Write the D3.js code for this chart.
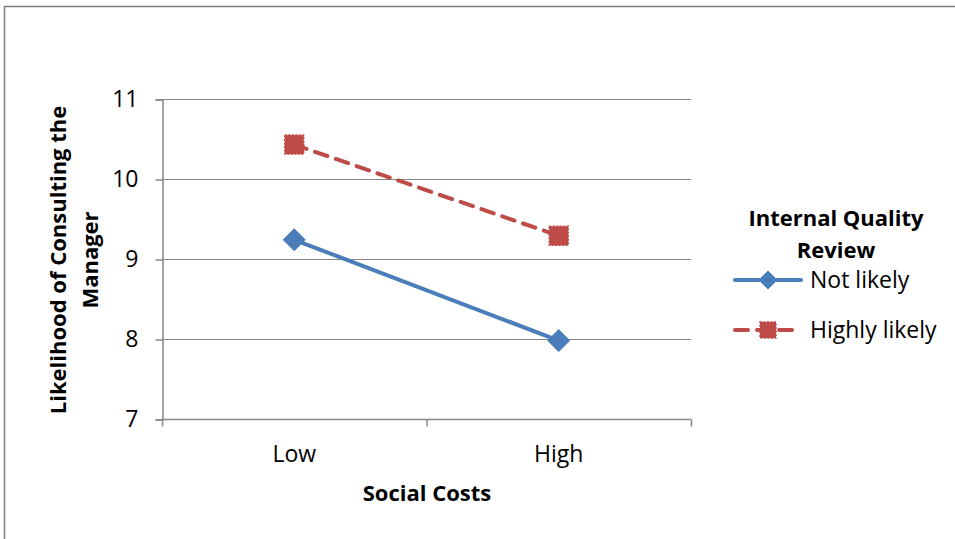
<!DOCTYPE html>
<html>
<head>
<meta charset="utf-8">
<script src="https://cdn.jsdelivr.net/npm/d3@7"></script>
<style>
  html, body { margin: 0; padding: 0; background: #fff; }
  svg { display: block; font-family: "Open Sans", Lato, sans-serif; }
</style>
</head>
<body>
<svg id="chart" width="955" height="539"></svg>
<script>
// Social cost levels on the x axis
const categories = ["Low", "High"];
// Mean likelihood of consulting the manager, by internal quality review
const notLikely = [9.24, 7.98];
const highlyLikely = [10.43, 9.29];
const seriesNames = ["Not likely", "Highly likely"];
const yTicks = [7, 8, 9, 10, 11];

const svg = d3.select("#chart");
const gridColor = "#878787";
const labelSize = 23;
const titleSize = 22;

// outer frame
svg.append("path")
  .attr("d", "M4.5,540 L4.5,6.5 L960,6.5")
  .attr("fill", "none").attr("stroke", "#7f7f7f").attr("stroke-width", 1.5);

const plot = { left: 162, right: 691, top: 99, bottom: 419 };
const x = d3.scaleBand().domain(categories).range([plot.left, plot.right]);
const y = d3.scaleLinear().domain([7, 11]).range([plot.bottom, plot.top]);

// horizontal gridlines
svg.append("g").selectAll("line").data(yTicks.slice(1)).join("line")
  .attr("x1", plot.left).attr("x2", plot.right)
  .attr("y1", d => y(d) + 0.5).attr("y2", d => y(d) + 0.5)
  .attr("stroke", gridColor).attr("stroke-width", 1.2);

// y axis
const yAxis = svg.append("g").attr("transform", `translate(${plot.left + 0.5},0.5)`)
  .call(d3.axisLeft(y).tickValues(yTicks).tickSize(7).tickPadding(17).tickFormat(d3.format("d")));
yAxis.select(".domain").attr("stroke", gridColor).attr("stroke-width", 1.5);
yAxis.selectAll(".tick line").attr("stroke", gridColor).attr("stroke-width", 1.5);
yAxis.selectAll("text").attr("font-size", labelSize).attr("fill", "#000")
  .attr("font-family", "'Open Sans', sans-serif");

// x axis with tick marks at band boundaries
const xAxisG = svg.append("g").attr("transform", `translate(0,${plot.bottom + 0.5})`);
xAxisG.append("line").attr("x1", plot.left).attr("x2", plot.right)
  .attr("stroke", gridColor).attr("stroke-width", 1.5);
const boundaries = [plot.left, plot.left + x.bandwidth(), plot.right];
xAxisG.selectAll("line.tk").data(boundaries).join("line").attr("class", "tk")
  .attr("x1", d => d + 0.5).attr("x2", d => d + 0.5).attr("y1", 0).attr("y2", 7)
  .attr("stroke", gridColor).attr("stroke-width", 1.5);
xAxisG.selectAll("text").data(categories).join("text")
  .attr("x", d => x(d) + x.bandwidth() / 2).attr("y", 42)
  .attr("text-anchor", "middle").attr("font-size", labelSize).text(d => d);

// axis titles
svg.append("text").attr("x", 427).attr("y", 501).attr("text-anchor", "middle")
  .attr("font-size", titleSize).attr("font-weight", "bold").text("Social Costs");
const yTitle = svg.append("text").attr("transform", "translate(66,260) rotate(-90)")
  .attr("text-anchor", "middle").attr("font-size", titleSize).attr("font-weight", "bold");
yTitle.append("tspan").attr("x", 0).attr("dy", 0).text("Likelihood of Consulting the");
yTitle.append("tspan").attr("x", 0).attr("dy", 32).text("Manager");

const cx = c => x(c) + x.bandwidth() / 2;
const line = d3.line().x((d, i) => cx(categories[i])).y(d => y(d));

const blue = "#4a7ebb";
const red = "#be4b48";

function diamond(g, px, py, r) {
  g.append("path").attr("d", `M${px},${py - r} L${px + r},${py} L${px},${py + r} L${px - r},${py} Z`)
    .attr("fill", blue).attr("stroke", blue).attr("stroke-width", 1);
}
function square(g, px, py, s) {
  g.append("rect").attr("x", px - s / 2).attr("y", py - s / 2).attr("width", s).attr("height", s)
    .attr("fill", red).attr("stroke", red).attr("stroke-width", 1.5).attr("stroke-dasharray", "2,1.5");
}

// series lines
svg.append("path").datum(notLikely).attr("d", line)
  .attr("fill", "none").attr("stroke", blue).attr("stroke-width", 4).attr("stroke-linecap", "round");
svg.append("path").datum(highlyLikely).attr("d", line)
  .attr("fill", "none").attr("stroke", red).attr("stroke-width", 4)
  .attr("stroke-dasharray", "13,9").attr("stroke-linecap", "round");

const markers = svg.append("g");
notLikely.forEach((v, i) => diamond(markers, cx(categories[i]), y(v), 11));
highlyLikely.forEach((v, i) => square(markers, cx(categories[i]), y(v), 19));

// legend
const legend = svg.append("g");
legend.append("text").attr("x", 836).attr("y", 226).attr("text-anchor", "middle")
  .attr("font-size", titleSize).attr("font-weight", "bold").text("Internal Quality");
legend.append("text").attr("x", 836).attr("y", 258).attr("text-anchor", "middle")
  .attr("font-size", titleSize).attr("font-weight", "bold").text("Review");

const ly = [280, 330];
legend.append("line").attr("x1", 735).attr("x2", 801).attr("y1", ly[0]).attr("y2", ly[0])
  .attr("stroke", blue).attr("stroke-width", 4).attr("stroke-linecap", "round");
diamond(legend, 768, ly[0], 9);
legend.append("line").attr("x1", 735).attr("x2", 801).attr("y1", ly[1]).attr("y2", ly[1])
  .attr("stroke", red).attr("stroke-width", 4).attr("stroke-dasharray", "13,9")
  .attr("stroke-linecap", "round");
square(legend, 768, ly[1], 16);
seriesNames.forEach((n, i) => {
  legend.append("text").attr("x", 810).attr("y", ly[i] + 8).attr("font-size", labelSize).text(n);
});
</script>
</body>
</html>
